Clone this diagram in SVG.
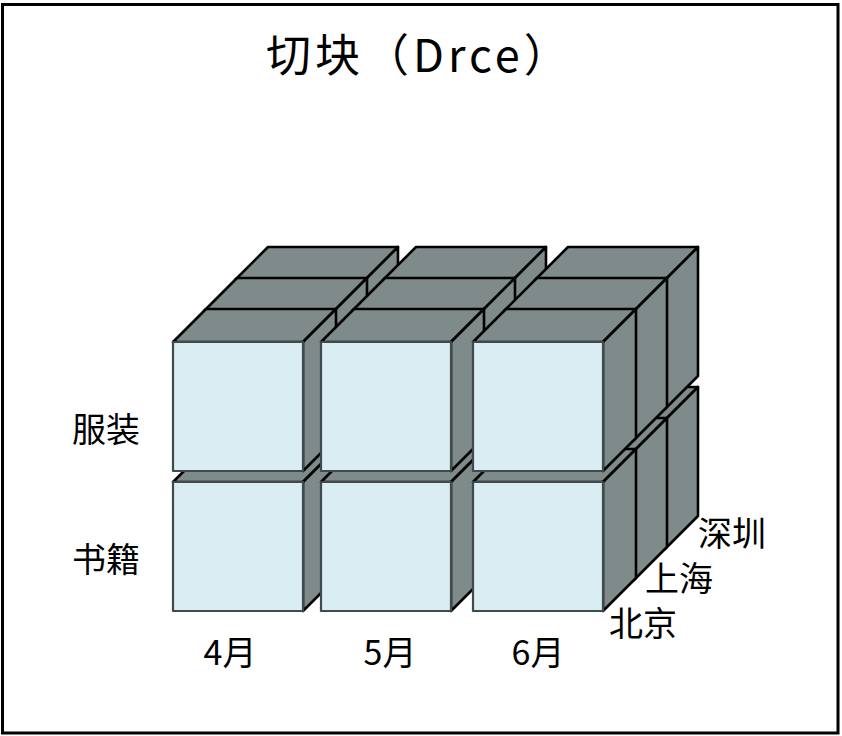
<svg xmlns="http://www.w3.org/2000/svg" xmlns:xlink="http://www.w3.org/1999/xlink" width="842" height="736" viewBox="0 0 842 736">
<style>
.front{fill:#DAEDF3;stroke:#3E4A4C;stroke-width:2.2;stroke-linejoin:round}
.side{fill:#7F8A8B;stroke:#000;stroke-width:2.6;stroke-linejoin:round}
.lbl{font-family:"Noto Sans CJK SC","Noto Sans",sans-serif;font-size:34px;fill:#000}
.title{font-family:"Noto Sans CJK SC","Noto Sans",sans-serif;font-size:45px;fill:#000;letter-spacing:4px}
</style>
<defs>
<g id="cube">
<polygon class="side" points="0,0 33,-33 163,-33 130,0"/>
<polygon class="side" points="130,0 163,-33 163,96 130,129"/>
<rect class="front" x="0" y="0" width="130" height="129"/>
</g>
</defs>
<rect x="2.5" y="4.5" width="835.5" height="728.5" fill="#fff" stroke="#000" stroke-width="3"/>
<text class="title" x="266" y="72">切块（Drce）</text>
<g id="cubes">
<g id="layer-shenzhen">
<use id="sz-book-4" xlink:href="#cube" x="235" y="420"/>
<use id="sz-book-5" xlink:href="#cube" x="383" y="420"/>
<use id="sz-book-6" xlink:href="#cube" x="535" y="420"/>
<use id="sz-cloth-4" xlink:href="#cube" x="235" y="280"/>
<use id="sz-cloth-5" xlink:href="#cube" x="383" y="280"/>
<use id="sz-cloth-6" xlink:href="#cube" x="535" y="280"/>
</g>
<g id="layer-shanghai">
<use id="sh-book-4" xlink:href="#cube" x="204" y="451"/>
<use id="sh-book-5" xlink:href="#cube" x="352" y="451"/>
<use id="sh-book-6" xlink:href="#cube" x="504" y="451"/>
<use id="sh-cloth-4" xlink:href="#cube" x="204" y="311"/>
<use id="sh-cloth-5" xlink:href="#cube" x="352" y="311"/>
<use id="sh-cloth-6" xlink:href="#cube" x="504" y="311"/>
</g>
<g id="layer-beijing">
<use id="bj-book-4" xlink:href="#cube" x="173" y="482"/>
<use id="bj-book-5" xlink:href="#cube" x="321" y="482"/>
<use id="bj-book-6" xlink:href="#cube" x="473" y="482"/>
<use id="bj-cloth-4" xlink:href="#cube" x="173" y="342"/>
<use id="bj-cloth-5" xlink:href="#cube" x="321" y="342"/>
<use id="bj-cloth-6" xlink:href="#cube" x="473" y="342"/>
</g>
</g>
<g id="labels">
<text class="lbl" x="72" y="442">服装</text>
<text class="lbl" x="72" y="572">书籍</text>
<text class="lbl" x="230" y="665" text-anchor="middle">4月</text>
<text class="lbl" x="390" y="665" text-anchor="middle">5月</text>
<text class="lbl" x="538" y="665" text-anchor="middle">6月</text>
<text class="lbl" x="609" y="636">北京</text>
<text class="lbl" x="645" y="591">上海</text>
<text class="lbl" x="698" y="546">深圳</text>
</g>
</svg>
